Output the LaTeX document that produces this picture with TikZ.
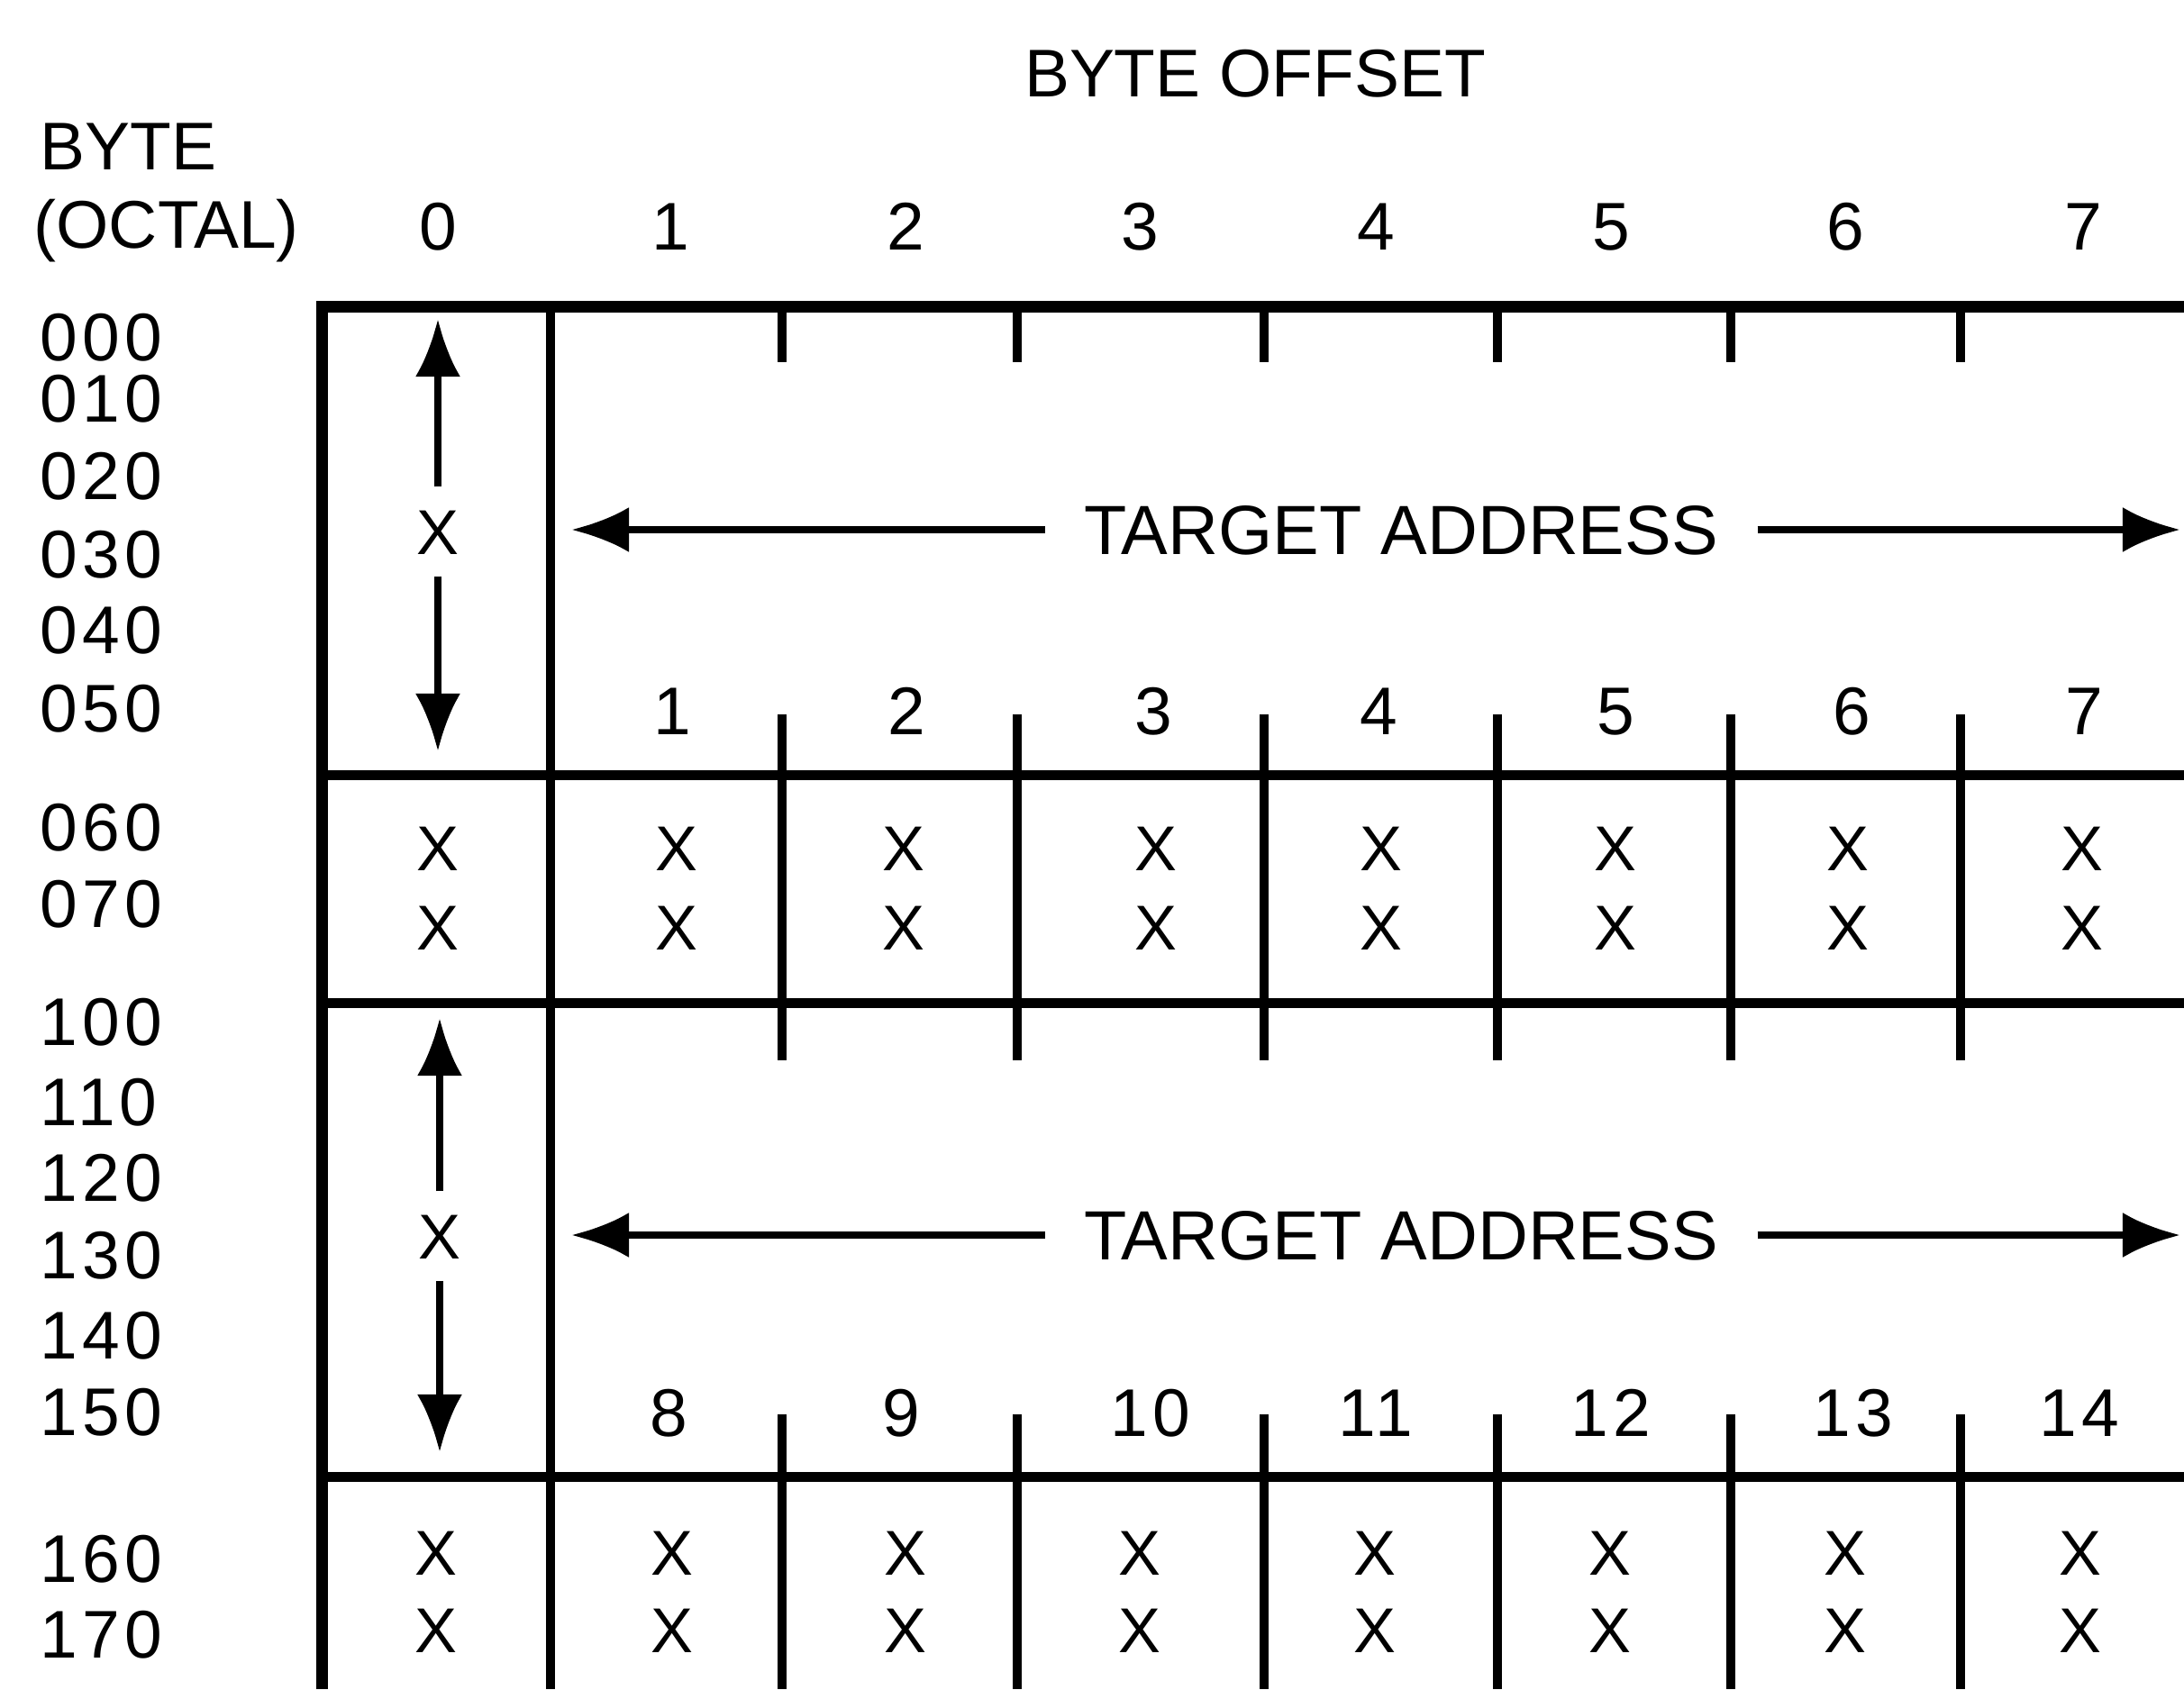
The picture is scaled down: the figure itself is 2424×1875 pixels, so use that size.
\documentclass[tikz,border=0pt]{standalone}
\usepackage{fontspec}
\setmainfont{Liberation Sans}
\newfontfamily\numfont{Liberation Sans}[LetterSpace=7]
\usetikzlibrary{arrows.meta}

\begin{document}
\begin{tikzpicture}[x=0.01cm,y=-0.01cm,
  lbl/.style={font=\fontsize{21.3}{25}\selectfont, inner sep=0pt},
  num/.style={font=\numfont\fontsize{21.3}{25}\selectfont, inner sep=0pt},
  xm/.style={font=\fontsize{20}{24}\selectfont, inner xsep=0pt, inner ysep=0pt, text height=0.5cm, text depth=0cm},
  xarr/.style={xm, inner ysep=0.24cm},
  ta/.style={font=\fontsize{22}{26}\selectfont, inner xsep=0.43cm, inner ysep=0pt, text height=0.554cm, text depth=0cm},
  border/.style={line width=0.13cm, line join=miter},
  rowline/.style={line width=0.11cm},
  colline/.style={line width=0.095cm},
  arr/.style={line width=0.08cm, -{Latex[length=0.64cm,width=0.5cm]}}
]
\useasboundingbox (0,0) rectangle (2424,1875);
\clip (0,0) rectangle (2424,1875);

% ---------- headings ----------
\node[lbl, anchor=base] (boff) at (1393,107) {BYTE OFFSET};
\node[lbl, anchor=base west] (byte) at (44,188) {BYTE};
\node[lbl, anchor=base west] (octal) at (37,275) {(OCTAL)};
\foreach \d/\x in {0/486,1/744,2/1005,3/1265,4/1527,5/1788,6/2048,7/2312}
  \node[num, anchor=base] (h\d) at (\x,277) {\d};

% ---------- row labels ----------
\foreach \t/\y in {000/400,010/468,020/554,030/641,040/725,050/812,
                   060/944,070/1029,100/1160,110/1249,120/1333,130/1419,
                   140/1508,150/1593,160/1756,170/1840}
  \node[num, anchor=base west] (r\t) at (44,\y) {\t};

% ---------- table lines ----------
\draw[border] (357,1875) -- (357,340) -- (2424,340);
\draw[rowline] (357,860) -- (2424,860);
\draw[rowline] (357,1113) -- (2424,1113);
\draw[rowline] (357,1639) -- (2424,1639);
\draw[colline] (611,340) -- (611,1875);
\foreach \c in {868,1129,1403,1662,1921,2176} {
  % block 1 ticks
  \draw[colline] (\c,340) -- (\c,402);
  \draw[colline] (\c,793) -- (\c,860);
  % block 2 full lines
  \draw[colline] (\c,860) -- (\c,1113);
  % block 3 ticks
  \draw[colline] (\c,1113) -- (\c,1177);
  \draw[colline] (\c,1570) -- (\c,1639);
  % block 4 full lines
  \draw[colline] (\c,1639) -- (\c,1875);
}

% ---------- block 1 ----------
\node[xarr] (xa) at (486,590) {X};
\coordinate (xaup) at (486,354);
\coordinate (xadn) at (486,834);
\draw[arr] (xa.north) -- (xaup);
\draw[arr] (xa.south) -- (xadn);

\node[ta] (taa) at (1555,588) {TARGET ADDRESS};
\coordinate (taal) at (634,588);
\coordinate (taar) at (2420,588);
\draw[arr] (taa.west) -- (taal);
\draw[arr] (taa.east) -- (taar);

\foreach \d/\x in {1/746,2/1006,3/1280,4/1530,5/1793,6/2055,7/2313}
  \node[num, anchor=base] (ba\d) at (\x,815) {\d};

% ---------- block 2 ----------
\foreach \i/\x in {0/486,1/751,2/1003,3/1283,4/1533,5/1793,6/2051,7/2311} {
  \node[xm] (xb\i a) at (\x,941) {X};
  \node[xm] (xb\i b) at (\x,1029) {X};
}

% ---------- block 3 ----------
\node[xarr] (xc) at (488,1372) {X};
\coordinate (xcup) at (488,1130);
\coordinate (xcdn) at (488,1612);
\draw[arr] (xc.north) -- (xcup);
\draw[arr] (xc.south) -- (xcdn);

\node[ta] (tab) at (1555,1371) {TARGET ADDRESS};
\coordinate (tabl) at (634,1371);
\coordinate (tabr) at (2420,1371);
\draw[arr] (tab.west) -- (tabl);
\draw[arr] (tab.east) -- (tabr);

\foreach \d/\x in {8/742,9/1000,10/1277,11/1527,12/1788,13/2057,14/2308}
  \node[num, anchor=base] (bc\d) at (\x,1594) {\d};

% ---------- block 4 ----------
\foreach \i/\x in {0/484,1/746,2/1005,3/1265,4/1526,5/1787,6/2048,7/2309} {
  \node[xm] (xd\i a) at (\x,1723) {X};
  \node[xm] (xd\i b) at (\x,1809) {X};
}
\end{tikzpicture}
\end{document}
